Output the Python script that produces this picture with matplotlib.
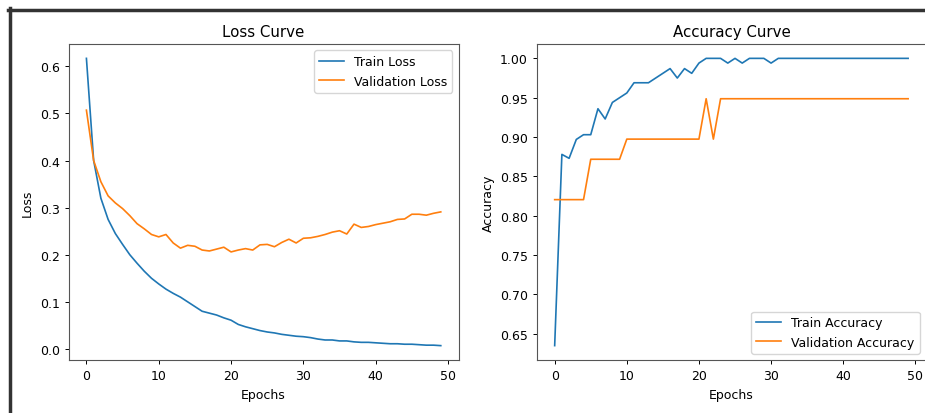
import matplotlib
matplotlib.use("Agg")
import matplotlib.pyplot as plt
from matplotlib.lines import Line2D

epochs = list(range(50))

train_loss = [0.617, 0.400, 0.320, 0.275, 0.245, 0.222, 0.200, 0.182, 0.165, 0.150,
              0.138, 0.127, 0.118, 0.110, 0.100, 0.090, 0.080, 0.076, 0.072, 0.066,
              0.061, 0.052, 0.047, 0.043, 0.039, 0.036, 0.034, 0.031, 0.029, 0.027,
              0.026, 0.024, 0.021, 0.019, 0.019, 0.017, 0.017, 0.015, 0.014, 0.014,
              0.013, 0.012, 0.011, 0.011, 0.010, 0.010, 0.009, 0.008, 0.008, 0.007]

val_loss = [0.507, 0.400, 0.355, 0.325, 0.310, 0.298, 0.283, 0.266, 0.255, 0.243,
            0.238, 0.243, 0.225, 0.214, 0.220, 0.218, 0.210, 0.208, 0.212, 0.216,
            0.206, 0.210, 0.213, 0.210, 0.221, 0.222, 0.217, 0.226, 0.233, 0.225,
            0.235, 0.236, 0.239, 0.243, 0.248, 0.251, 0.244, 0.265, 0.258, 0.260,
            0.264, 0.267, 0.270, 0.275, 0.276, 0.286, 0.286, 0.284, 0.288, 0.291]

train_acc = [0.635, 0.878, 0.873, 0.897, 0.903, 0.903, 0.936, 0.923, 0.944, 0.950,
             0.956, 0.969, 0.969, 0.969, 0.975, 0.981, 0.987, 0.975, 0.987, 0.981,
             0.994, 1.000, 1.000, 1.000, 0.994, 1.000, 0.994, 1.000, 1.000, 1.000,
             0.994, 1.000, 1.000, 1.000, 1.000, 1.000, 1.000, 1.000, 1.000, 1.000,
             1.000, 1.000, 1.000, 1.000, 1.000, 1.000, 1.000, 1.000, 1.000, 1.000]

val_acc = [0.8205] * 5 + [0.8718] * 5 + [0.8974] * 11 + [0.9487, 0.8974] + [0.9487] * 27

titles = ["Loss Curve", "Accuracy Curve"]
ylabels = ["Loss", "Accuracy"]
loss_labels = ["Train Loss", "Validation Loss"]
acc_labels = ["Train Accuracy", "Validation Accuracy"]

W, H = 925, 414
fig = plt.figure(figsize=(W / 100, H / 100), dpi=100)
fig.patch.set_facecolor("white")

fs = 9.0
ax1 = fig.add_axes([68.7 / W, 53 / H, (458.5 - 68.7) / W, 316 / H])
ax2 = fig.add_axes([537 / W, 53 / H, (925.8 - 537) / W, 316 / H])

lw = 1.2
ax1.plot(epochs, train_loss, color="#1f77b4", lw=lw, label=loss_labels[0])
ax1.plot(epochs, val_loss, color="#ff7f0e", lw=lw, label=loss_labels[1])
ax1.legend(loc="upper right", fontsize=fs)

ax2.plot(epochs, train_acc, color="#1f77b4", lw=lw, label=acc_labels[0])
ax2.plot(epochs, val_acc, color="#ff7f0e", lw=lw, label=acc_labels[1])
ax2.legend(loc="lower right", fontsize=fs)

for ax, t, yl in zip([ax1, ax2], titles, ylabels):
    ax.set_title(t, fontsize=fs * 1.2)
    ax.set_xlabel("Epochs", fontsize=fs)
    ax.set_ylabel(yl, fontsize=fs)
    ax.tick_params(labelsize=fs, width=0.7, length=3)
    for s in ax.spines.values():
        s.set_linewidth(0.8)
        s.set_color("#555555")

ax1.set_yticks([0.0, 0.1, 0.2, 0.3, 0.4, 0.5, 0.6])
ax2.set_yticks([0.65, 0.70, 0.75, 0.80, 0.85, 0.90, 0.95, 1.00])

# screenshot frame
fig.add_artist(Line2D([8 / W, 1], [1 - 10.5 / H, 1 - 10.5 / H], transform=fig.transFigure,
                      color="#333333", lw=2.5))
fig.add_artist(Line2D([9.5 / W, 9.5 / W], [0, 1 - 9 / H], transform=fig.transFigure,
                      color="#333333", lw=2.5))

fig.savefig("out.png", dpi=100)
